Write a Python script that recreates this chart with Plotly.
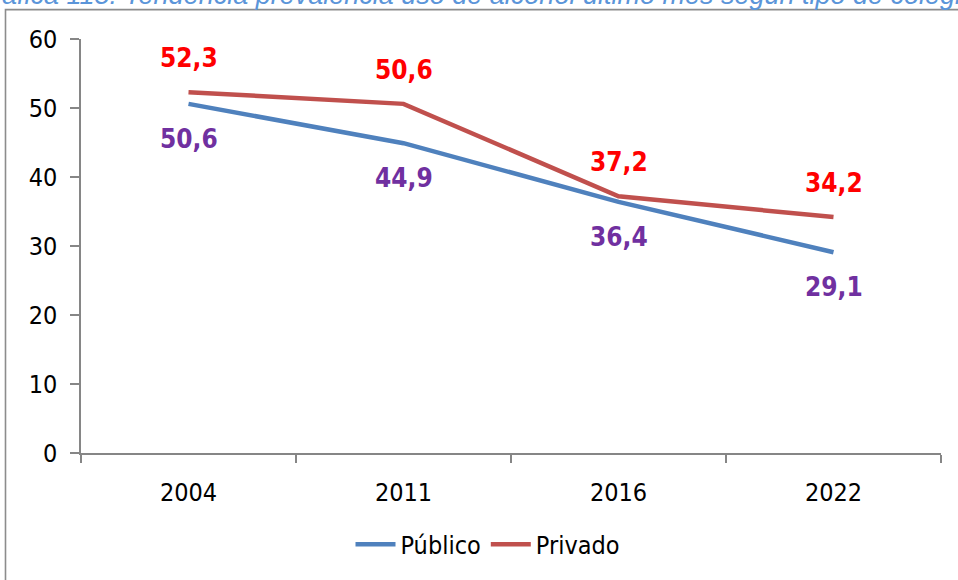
import plotly.graph_objects as go

# Survey years and prevalence (%) by school type
years = ["2004", "2011", "2016", "2022"]
publico = [50.6, 44.9, 36.4, 29.1]
privado = [52.3, 50.6, 37.2, 34.2]
series_names = ["Público", "Privado"]
title_text = "Gráfica 115: Tendencia prevalencia uso de alcohol último mes según tipo de colegio"

W, H = 958, 580
ML, MR, MT, MB = 81, 17, 39, 125
PW, PH = W - ML - MR, H - MT - MB

BLUE = "#4F81BD"
RED = "#C0504D"
LBL_RED = "#FF0000"
LBL_PURPLE = "#7030A0"
AXIS = "#868686"
FONT = "DejaVu Sans Condensed, DejaVu Sans, sans-serif"


def px_x(p):
    return (p - ML) / PW


def px_y(p):
    return (H - MB - p) / PH


def fmt(v):
    return f"{v:.1f}".replace(".", ",")


fig = go.Figure()
fig.add_trace(go.Scatter(x=years, y=publico, mode="lines", name=series_names[0],
                         line=dict(color=BLUE, width=4.5)))
fig.add_trace(go.Scatter(x=years, y=privado, mode="lines", name=series_names[1],
                         line=dict(color=RED, width=4.5)))

# Value labels: category axis positions are given by index
annotations = []
for i, v in enumerate(privado):
    annotations.append(dict(x=i, y=v, xref="x", yref="y", text=f"<b>{fmt(v)}</b>",
                            showarrow=False, yshift=34, yanchor="middle",
                            font=dict(family=FONT, size=26, color=LBL_RED)))
for i, v in enumerate(publico):
    annotations.append(dict(x=i, y=v, xref="x", yref="y", text=f"<b>{fmt(v)}</b>",
                            showarrow=False, yshift=-35, yanchor="middle",
                            font=dict(family=FONT, size=26, color=LBL_PURPLE)))

# Caption line partly cut off by the top edge of the page
annotations.append(dict(x=px_x(-30), y=px_y(12), xref="paper", yref="paper",
                        xanchor="left", yanchor="bottom", showarrow=False,
                        text=title_text,
                        font=dict(family="Liberation Sans, Arial, sans-serif", size=27,
                                  color="#5B95D9", style="italic")))

fig.update_layout(
    width=W, height=H,
    margin=dict(l=ML, r=MR, t=MT, b=MB),
    paper_bgcolor="white", plot_bgcolor="white",
    font=dict(family=FONT, size=25, color="black"),
    showlegend=True,
    legend=dict(orientation="h", x=px_x(488), xanchor="center", y=px_y(547),
                yanchor="middle", font=dict(family=FONT, size=25, color="black"),
                itemwidth=40, traceorder="normal"),
    annotations=annotations,
    shapes=[dict(type="rect", xref="paper", yref="paper",
                 x0=px_x(5.5), x1=px_x(W + 20), y0=px_y(H + 20), y1=px_y(9.5),
                 line=dict(color="#8C8C8C", width=1.6), fillcolor="rgba(0,0,0,0)",
                 layer="below")],
)

fig.update_xaxes(type="category", range=[-0.5, 3.5], showline=True, linecolor=AXIS,
                 linewidth=1.5, ticks="outside", tickson="boundaries", ticklen=8,
                 tickcolor=AXIS, tickwidth=1.5, showgrid=False, zeroline=False,
                 ticklabelstandoff=16, tickfont=dict(family=FONT, size=25))
fig.update_yaxes(range=[0, 60], dtick=10, showline=True, linecolor=AXIS, linewidth=1.5,
                 ticks="outside", ticklen=9, tickcolor=AXIS, tickwidth=1.5,
                 showgrid=False, zeroline=False, ticklabelstandoff=8,
                 tickfont=dict(family=FONT, size=25))

fig.write_html("out.html")
